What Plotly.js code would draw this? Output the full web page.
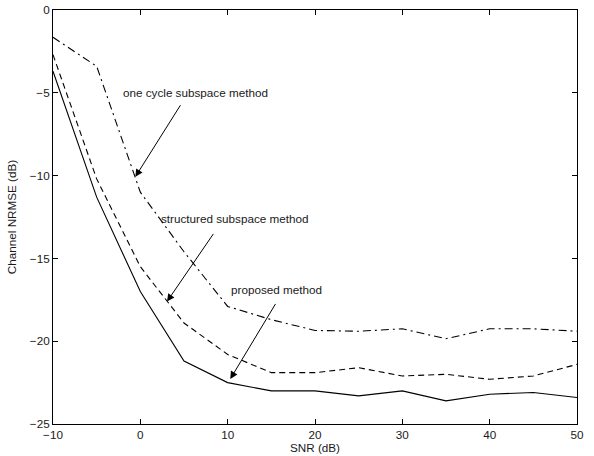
<!DOCTYPE html>
<html>
<head>
<meta charset="utf-8">
<script src="https://cdn.plot.ly/plotly-3.0.1.min.js"></script>
<style>html,body{margin:0;padding:0;background:#fff;}#chart{width:594px;height:456px;}</style>
</head>
<body>
<div id="chart"></div>
<script>
const snr = [-10, -5, 0, 5, 10, 15, 20, 25, 30, 35, 40, 45, 50];
const proposed = [-3.7, -11.3, -17.0, -21.2, -22.5, -23.0, -23.0, -23.3, -23.0, -23.6, -23.2, -23.1, -23.4];
const structured = [-2.7, -10.2, -15.5, -18.9, -20.8, -21.9, -21.9, -21.6, -22.1, -22.0, -22.3, -22.1, -21.4];
const oneCycle = [-1.65, -3.4, -11.0, -14.6, -17.9, -18.7, -19.35, -19.4, -19.25, -19.85, -19.25, -19.25, -19.4];
const xTicks = [-10, 0, 10, 20, 30, 40, 50];
const yTicks = [-25, -20, -15, -10, -5, 0];

const labels = [
  {text: 'one cycle subspace method', tx: 6.3, ty: -5.0, ax: 4.7, ay: -5.66, x: -0.57, y: -10.07},
  {text: 'structured subspace method', tx: 10.8, ty: -12.6, ax: 8.48, ay: -13.43, x: 3.06, y: -17.6},
  {text: 'proposed method', tx: 15.6, ty: -16.9, ax: 15.58, ay: -17.66, x: 10.3, y: -22.28}
];

const font = {family: 'Liberation Sans, Arial, Helvetica, sans-serif', size: 11.7, color: '#1a1a1a'};

const traces = [
  {x: snr, y: proposed, mode: 'lines', line: {color: 'black', width: 1.1}},
  {x: snr, y: structured, mode: 'lines', line: {color: 'black', width: 1.1, dash: '6px,4px'}},
  {x: snr, y: oneCycle, mode: 'lines', line: {color: 'black', width: 1.1, dash: '8px,4px,2px,4px'}}
];

const annotations = [];
labels.forEach(l => {
  annotations.push({x: l.tx, y: l.ty, xref: 'x', yref: 'y', text: l.text, showarrow: false, font: font, xanchor: 'center', yanchor: 'middle'});
  annotations.push({x: l.x, y: l.y, xref: 'x', yref: 'y', ax: l.ax, ay: l.ay, axref: 'x', ayref: 'y', text: '', showarrow: true, arrowhead: 2, arrowsize: 1.5, arrowwidth: 1, arrowcolor: 'black'});
});

const axisCommon = {
  showline: true, linecolor: 'black', linewidth: 1, mirror: 'ticks',
  ticks: 'inside', ticklen: 5, tickcolor: 'black', tickwidth: 1,
  showgrid: false, zeroline: false, tickfont: font
};

const layout = {
  width: 594, height: 456,
  margin: {l: 53, r: 17, t: 10, b: 32},
  paper_bgcolor: 'white', plot_bgcolor: 'white',
  showlegend: false,
  font: font,
  xaxis: Object.assign({}, axisCommon, {range: [-10, 50], tickvals: xTicks, title: {text: 'SNR (dB)', font: font, standoff: 3}}),
  yaxis: Object.assign({}, axisCommon, {range: [-25, 0], tickvals: yTicks, title: {text: 'Channel NRMSE (dB)', font: font, standoff: 10}}),
  annotations: annotations
};

Plotly.newPlot('chart', traces, layout, {staticPlot: true, displayModeBar: false});
</script>
</body>
</html>
